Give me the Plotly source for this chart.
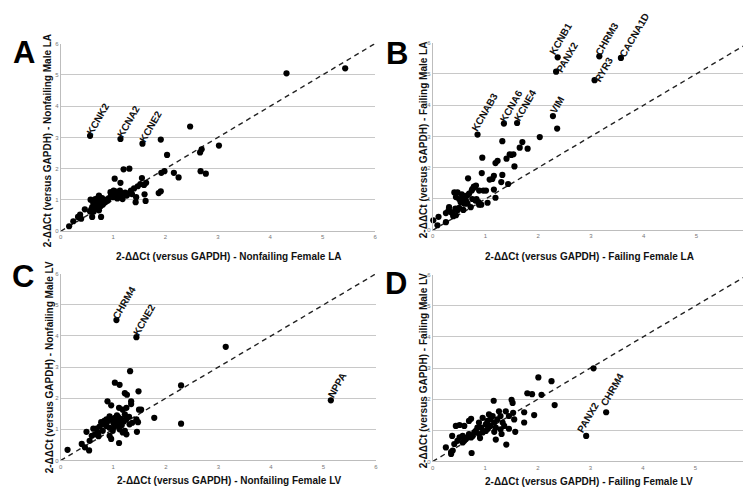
import math
import plotly.graph_objects as go

# ---------------- data ----------------
# Panel A: Nonfailing LA (female x, male y)
A_x = [0.56, 1.14, 1.56, 1.91, 2.47, 2.03, 3.02, 2.66, 2.69, 4.31,
       5.43, 2.67, 2.77, 2.16, 2.25, 1.92, 1.98, 1.20, 1.31, 1.03,
       1.14, 1.55, 1.63, 1.59, 1.87, 1.91, 1.60, 1.62, 1.43, 1.18,
       1.52, 1.47, 1.40, 1.34, 1.30, 1.23, 1.17, 1.11, 1.04, 1.00,
       0.96, 0.92, 0.87, 0.82, 0.79, 0.75, 0.71, 0.66, 0.62, 0.68,
       0.63, 0.73, 0.76, 0.81, 0.85, 0.90, 1.01, 1.06, 1.13, 1.14,
       1.26, 1.36, 1.44, 0.66, 0.63, 0.73, 0.76, 0.60, 0.56, 0.16,
       0.24, 0.33, 0.37, 0.39, 0.46, 0.58, 0.60, 0.77, 0.70, 0.80,
       0.57, 0.95, 1.08]
A_y = [3.05, 2.95, 2.80, 2.93, 3.35, 2.44, 2.74, 2.52, 2.62, 5.05,
       5.21, 1.92, 1.84, 1.87, 1.72, 1.87, 1.92, 1.98, 2.00, 1.68,
       1.55, 1.70, 1.55, 1.48, 1.22, 1.28, 1.18, 0.97, 0.93, 1.03,
       1.51, 1.44, 1.37, 1.30, 1.21, 1.24, 1.19, 1.22, 1.16, 1.09,
       1.19, 1.06, 1.01, 0.98, 1.06, 0.95, 0.88, 0.82, 0.91, 0.72,
       0.63, 0.67, 0.80, 0.88, 0.93, 0.98, 1.30, 1.27, 1.30, 1.09,
       1.14, 1.19, 1.09, 1.03, 0.98, 1.14, 1.03, 0.77, 0.63, 0.16,
       0.32, 0.46, 0.53, 0.40, 0.70, 0.69, 0.46, 0.46, 1.05, 0.85,
       1.01, 1.25, 1.05]
A_label_idx = [0, 1, 2]
A_label_txt = ["KCNK2", "KCNA2", "KCNE2"]

# Panel B: Failing LA
B_x = [2.37, 2.34, 3.16, 3.07, 3.57, 2.28, 2.36, 0.85, 1.35, 1.60,
       2.03, 1.32, 1.70, 1.65, 1.80, 1.53, 1.49, 1.46, 1.40, 1.23,
       1.19, 0.94, 1.55, 0.93, 1.32, 1.16, 1.13, 1.08, 0.67, 1.30,
       1.43, 1.16, 1.19, 1.04, 0.96, 1.01, 0.88, 0.79, 0.75, 0.82,
       0.74, 0.69, 0.66, 0.41, 0.47, 0.44, 0.50, 0.57, 0.60, 0.63,
       0.53, 0.60, 0.66, 0.72, 0.75, 0.81, 0.87, 0.83, 0.31, 0.30,
       0.35, 0.38, 0.39, 0.44, 0.47, 0.43, 0.25, 0.11, 0.01, 0.09,
       0.25, 0.92, 0.88, 0.55, 0.50, 0.78, 0.58]
B_y = [5.53, 5.07, 5.56, 4.80, 5.51, 3.65, 3.25, 3.06, 3.41, 3.43,
       2.98, 2.85, 2.82, 2.64, 2.61, 2.43, 2.41, 2.43, 2.29, 2.22,
       2.15, 2.32, 2.04, 1.83, 1.77, 1.74, 1.64, 1.62, 1.66, 1.54,
       1.48, 1.30, 1.04, 0.88, 1.27, 1.27, 1.27, 1.37, 1.32, 1.43,
       1.27, 1.17, 1.12, 1.21, 1.21, 1.06, 1.00, 1.00, 1.09, 0.95,
       0.90, 0.85, 0.85, 0.74, 1.00, 0.95, 0.90, 1.00, 0.74, 0.64,
       0.58, 0.53, 0.45, 0.48, 0.64, 0.69, 0.55, 0.43, 0.32, 0.16,
       0.26, 0.82, 0.82, 1.15, 0.72, 1.40, 0.65]
B_label_idx = [0, 1, 2, 3, 4, 5, 7, 8, 9]
B_label_txt = ["KCNB1", "PANX2", "CHRM3", "RYR3", "CACNA1D", "VIM",
               "KCNAB3", "KCNA6", "KCNE4"]

# Panel C: Nonfailing LV
C_x = [1.06, 1.44, 3.14, 5.14, 2.29, 2.29, 1.78, 1.32, 1.03, 1.12,
       1.48, 1.22, 1.26, 0.89, 0.96, 1.34, 1.34, 1.49, 1.53, 1.11,
       1.18, 1.25, 1.44, 1.47, 1.45, 1.11, 0.77, 0.81, 0.87, 0.74,
       0.68, 0.62, 0.65, 0.59, 0.71, 0.93, 1.00, 1.09, 1.12, 1.18,
       1.25, 1.22, 1.31, 1.36, 0.90, 0.96, 0.93, 0.96, 0.49, 0.55,
       0.40, 0.46, 0.54, 0.13, 1.03, 1.06, 1.09, 1.12, 1.05, 1.15,
       1.00, 1.07, 1.11, 1.01, 0.93, 0.87, 0.83, 1.25, 1.30, 1.22,
       0.80, 0.72, 1.16, 1.20, 0.99]
C_y = [4.51, 3.96, 3.65, 1.93, 2.41, 1.18, 1.37, 2.87, 2.50, 2.43,
       2.22, 2.16, 2.11, 1.90, 1.77, 1.90, 1.81, 1.63, 1.63, 1.69,
       1.63, 1.69, 1.32, 1.23, 0.92, 0.56, 1.23, 1.16, 1.11, 1.09,
       1.02, 1.02, 0.84, 0.79, 0.90, 1.05, 1.05, 1.11, 1.00, 0.90,
       0.84, 0.95, 1.16, 1.21, 1.27, 1.32, 0.79, 0.69, 0.92, 0.63,
       0.53, 0.42, 0.32, 0.34, 1.37, 1.32, 1.40, 1.27, 1.23, 1.34,
       1.21, 1.45, 1.21, 1.29, 1.42, 1.32, 1.27, 1.32, 1.40, 1.48,
       0.95, 0.78, 1.13, 1.25, 0.95]
C_label_idx = [0, 1, 3]
C_label_txt = ["CHRM4", "KCNE2", "NPPA"]

# Panel D: Failing LV
D_x = [3.06, 3.30, 2.92, 2.01, 2.26, 1.80, 1.89, 2.07, 2.32, 1.50,
       1.52, 1.16, 1.74, 1.93, 1.74, 1.57, 1.40, 1.39, 1.45, 1.53,
       1.55, 1.26, 1.29, 1.23, 1.33, 1.36, 1.29, 1.20, 1.17, 1.10,
       1.14, 1.07, 1.04, 1.01, 1.10, 0.95, 0.88, 0.92, 0.85, 0.82,
       0.79, 0.88, 0.95, 1.01, 0.76, 0.69, 0.73, 0.66, 0.63, 0.60,
       0.57, 0.51, 0.57, 0.47, 0.44, 0.51, 0.73, 0.69, 0.41, 0.37,
       0.25, 0.35, 0.38, 0.74, 1.20, 1.31, 1.45, 0.60, 0.35, 1.17,
       0.90, 1.05]
D_y = [2.99, 1.58, 0.82, 2.70, 2.58, 2.19, 2.16, 2.14, 1.81, 1.98,
       1.88, 1.95, 1.58, 1.49, 1.25, 0.95, 0.54, 1.61, 1.46, 1.56,
       1.35, 1.61, 1.46, 1.35, 1.25, 1.14, 1.03, 1.09, 1.25, 1.35,
       1.46, 1.51, 1.30, 1.19, 1.14, 1.40, 1.25, 1.09, 1.09, 0.98,
       0.93, 0.88, 0.93, 0.98, 0.82, 0.88, 0.77, 0.77, 0.72, 0.66,
       0.61, 0.77, 0.82, 0.66, 1.14, 1.17, 1.37, 1.30, 0.56, 0.82,
       0.45, 0.24, 0.35, 0.27, 0.70, 0.88, 1.05, 1.14, 0.30, 0.95,
       0.75, 1.05]
D_label_idx = [2, 1]
D_label_txt = ["PANX2", "CHRM4"]

axis_ticks = [0, 1, 2, 3, 4, 5, 6]
panel_letters = ["A", "B", "C", "D"]
x_titles = ["2-ΔΔCt (versus GAPDH) - Nonfailing Female LA",
            "2-ΔΔCt (versus GAPDH) - Failing Female LA",
            "2-ΔΔCt (versus GAPDH) - Nonfailing Female LV",
            "2-ΔΔCt (versus GAPDH) - Failing Female LV"]
y_titles = ["2-ΔΔCt (versus GAPDH) - Nonfailing Male LA",
            "2-ΔΔCt (versus GAPDH) - Failing Male LA",
            "2-ΔΔCt (versus GAPDH) - Nonfailing Male LV",
            "2-ΔΔCt (versus GAPDH) - Failing Male LV"]

# ---------------- layout geometry (pixels) ----------------
W, H = 751, 489
plot_px = [((51, 367), (33, 223)), ((425, 743), (32, 222)),
           ((51, 368), (266, 455)), ((425, 742), (267, 456))]
letter_px = [(14, 42), (389, 43), (13, 269), (388, 276)]
xtitle_px = [(220, 249), (583, 249), (221, 475), (582, 476)]
ytitle_px = [(38, 131), (416, 130), (40, 361), (416, 364)]
# custom centre offsets (px, up positive) for crowded labels
label_override = {(1, "KCNB1"): (3, 19), (1, "PANX2"): (11, 14),
                  (1, "CACNA1D"): (14, 23), (1, "KCNAB3"): (7, 22),
                  (1, "RYR3"): (9, 11),
                  (3, "PANX2"): (2, 18), (3, "CHRM4"): (6, 23)}

TITLE_FONT = "Liberation Sans Narrow, Arial Narrow, Liberation Sans, Arial, sans-serif"
LABEL_FONT = "Liberation Sans, Arial, sans-serif"
ANG = 60


def px2paper(px, py):
    return px / W, 1 - py / H


def label_shift(text, angle=ANG, gap=2, perp=2):
    L = len(text) * 6.9
    th = math.radians(angle)
    ux, uy = math.cos(th), math.sin(th)
    nx, ny = -uy, ux
    d = gap + L / 2
    return d * ux + perp * nx, d * uy + perp * ny


panels = [(A_x, A_y, A_label_idx, A_label_txt),
          (B_x, B_y, B_label_idx, B_label_txt),
          (C_x, C_y, C_label_idx, C_label_txt),
          (D_x, D_y, D_label_idx, D_label_txt)]

fig = go.Figure()
annotations = []
layout_axes = {}

for i, (xs, ys, lidx, ltxt) in enumerate(panels):
    n = i + 1
    xa = "x" if n == 1 else f"x{n}"
    ya = "y" if n == 1 else f"y{n}"
    (x0, x1), (ytop, ybot) = plot_px[i]
    dx = [x0 / W, x1 / W]
    dy = [1 - ybot / H, 1 - ytop / H]

    # identity dashed line
    fig.add_trace(go.Scatter(x=[0, 6], y=[0, 6], mode="lines",
                             line=dict(color="#222222", width=1.4, dash="5px,4px"),
                             xaxis=xa, yaxis=ya, hoverinfo="skip", showlegend=False))
    fig.add_trace(go.Scatter(x=xs, y=ys, mode="markers",
                             marker=dict(color="black", size=6.2, line=dict(width=0)),
                             xaxis=xa, yaxis=ya, cliponaxis=False, showlegend=False))

    kx = "xaxis" if n == 1 else f"xaxis{n}"
    ky = "yaxis" if n == 1 else f"yaxis{n}"
    layout_axes[kx] = dict(domain=dx, range=[0, 6], tickvals=axis_ticks,
                           showgrid=False, zeroline=False, showline=True,
                           linecolor="#bdbdbd", linewidth=1, ticks="",
                           tickfont=dict(size=6, color="#777777", family=LABEL_FONT),
                           anchor=ya, fixedrange=True)
    layout_axes[ky] = dict(domain=dy, range=[0, 6], tickvals=axis_ticks,
                           showgrid=True, gridcolor="#c8c8c8", gridwidth=1,
                           zeroline=False, showline=True,
                           linecolor="#bdbdbd", linewidth=1, ticks="",
                           tickfont=dict(size=6, color="#777777", family=LABEL_FONT),
                           anchor=xa, fixedrange=True)

    # point labels
    for j, t in zip(lidx, ltxt):
        if (i, t) in label_override:
            sx, sy = label_override[(i, t)]
        else:
            sx, sy = label_shift(t)
        annotations.append(dict(x=xs[j], y=ys[j], xref=xa, yref=ya, text=f"<b>{t}</b>",
                                showarrow=False, textangle=-ANG,
                                xanchor="center", yanchor="middle",
                                xshift=sx, yshift=sy,
                                font=dict(size=10, color="#111111", family=LABEL_FONT)))

    # panel letter
    lx, ly = px2paper(*letter_px[i])
    annotations.append(dict(x=lx, y=ly, xref="paper", yref="paper",
                            text=f"<b>{panel_letters[i]}</b>", showarrow=False,
                            xanchor="center", yanchor="middle",
                            font=dict(size=31, color="black", family=LABEL_FONT)))
    # axis titles
    tx, ty = px2paper(*xtitle_px[i])
    annotations.append(dict(x=tx, y=ty, xref="paper", yref="paper",
                            text=f"<b>{x_titles[i]}</b>", showarrow=False,
                            xanchor="center", yanchor="middle",
                            font=dict(size=10, color="#111111", family=TITLE_FONT)))
    tx, ty = px2paper(*ytitle_px[i])
    annotations.append(dict(x=tx, y=ty, xref="paper", yref="paper",
                            text=f"<b>{y_titles[i]}</b>", showarrow=False,
                            textangle=-90, xanchor="center", yanchor="middle",
                            font=dict(size=10, color="#111111", family=TITLE_FONT)))

fig.update_layout(width=W, height=H, margin=dict(l=0, r=0, t=0, b=0),
                  paper_bgcolor="white", plot_bgcolor="white",
                  showlegend=False, annotations=annotations, **layout_axes)

fig.write_html("out.html")
